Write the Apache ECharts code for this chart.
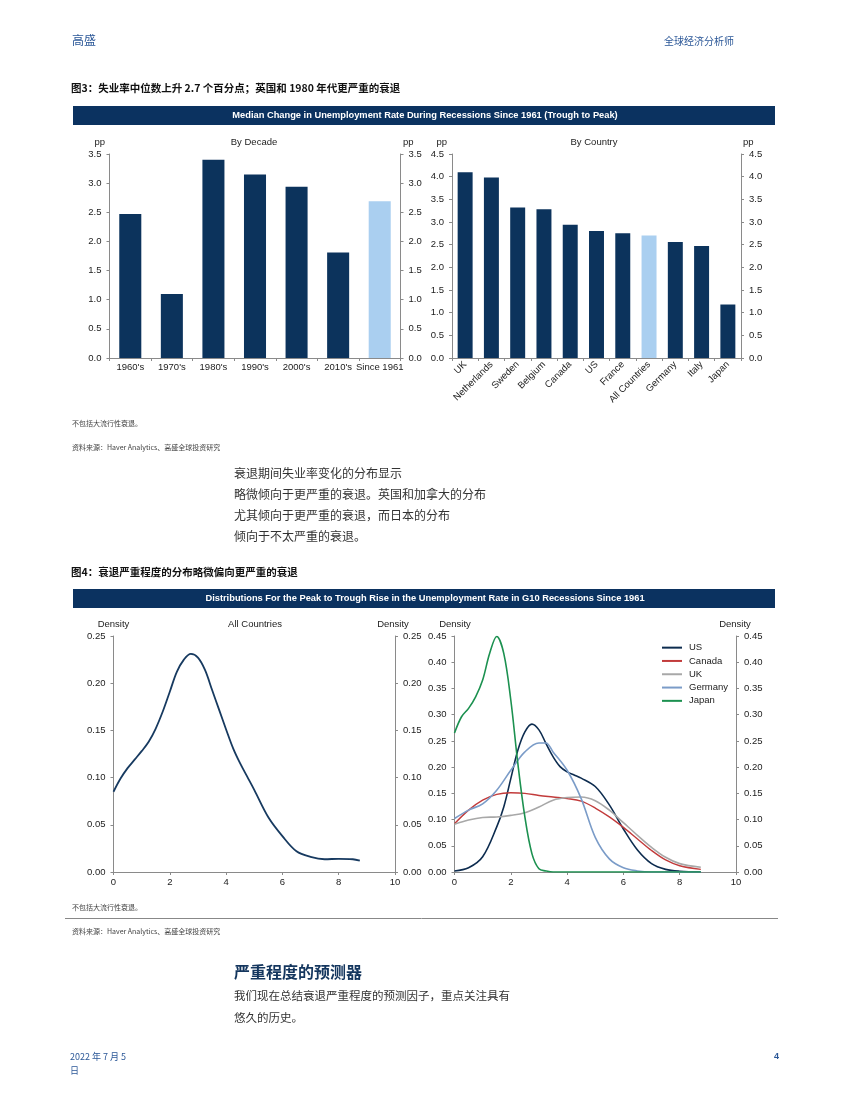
<!DOCTYPE html>
<html><head><meta charset="utf-8">
<script src="https://cdn.jsdelivr.net/npm/echarts@6/dist/echarts.min.js"></script>
<style>html,body{margin:0;padding:0;background:#fff}#c{width:850px;height:1100px}</style>
</head><body><div id="c"></div>
<script>
// ---------- data ----------
const decades = ["1960's", "1970's", "1980's", "1990's", "2000's", "2010's", "Since 1961"];
const decadeValues = [2.47, 1.10, 3.40, 3.15, 2.94, 1.81, 2.69];
const decadeHighlight = "Since 1961";

const countries = ["UK", "Netherlands", "Sweden", "Belgium", "Canada", "US", "France", "All Countries", "Germany", "Italy", "Japan"];
const countryValues = [4.10, 3.98, 3.32, 3.28, 2.94, 2.80, 2.75, 2.70, 2.56, 2.47, 1.18];
const countryHighlight = "All Countries";

const allX = [0,0.25,0.5,0.75,1,1.25,1.5,1.75,2,2.25,2.5,2.75,3,3.25,3.5,3.75,4,4.25,4.5,4.75,5,5.5,6,6.5,7,7.5,8,8.5,8.75];
const allY = [0.085,0.099,0.110,0.119,0.128,0.138,0.152,0.170,0.191,0.212,0.225,0.231,0.227,0.214,0.193,0.172,0.151,0.131,0.115,0.101,0.087,0.058,0.038,0.022,0.016,0.0135,0.014,0.0135,0.012];

const usX = [0,0.5,1,1.5,1.75,2,2.25,2.5,2.75,3,3.25,3.5,3.75,4,4.25,4.5,5,5.5,6,6.5,7,7.5,8,8.75];
const usY = [0.002,0.008,0.029,0.086,0.124,0.178,0.232,0.267,0.282,0.271,0.245,0.220,0.201,0.191,0.185,0.179,0.163,0.128,0.082,0.042,0.016,0.005,0.0015,0.0005];

const canadaX = [0,0.5,1,1.5,2,2.5,3,3.5,4,4.5,5,5.5,6,6.5,7,7.5,8,8.75];
const canadaY = [0.092,0.118,0.137,0.148,0.151,0.150,0.146,0.143,0.140,0.135,0.122,0.105,0.085,0.063,0.041,0.023,0.012,0.005];

const ukX = [0,0.5,1,1.5,2,2.5,3,3.5,4,4.5,5,5.5,6,6.5,7,7.5,8,8.75];
const ukY = [0.091,0.099,0.104,0.105,0.108,0.113,0.124,0.137,0.142,0.143,0.136,0.118,0.094,0.070,0.047,0.028,0.016,0.009];

const germanyX = [0,0.5,1,1.5,2,2.5,3,3.25,3.5,4,4.5,5,5.5,6,6.5,7,7.5,8,8.75];
const germanyY = [0.102,0.118,0.130,0.156,0.194,0.229,0.246,0.246,0.229,0.194,0.140,0.066,0.025,0.008,0.002,0,0,0,0];

const japanX = [0,0.25,0.5,0.75,1,1.25,1.5,1.75,2,2.25,2.5,2.75,3,3.25,3.5,4,5,6,7,8,8.75];
const japanY = [0.265,0.296,0.312,0.334,0.366,0.417,0.449,0.417,0.328,0.207,0.105,0.035,0.006,0.002,0,0,0,0,0,0,0];

// ---------- styles ----------
const NAVY = '#0c335c', LIGHT = '#aacff0', BANNER = '#0b3260';
const AXIS = '#8a8a8a', TXT = '#222';
const LAT = '"Liberation Sans", Arial, sans-serif';
const CJK = '"Noto Sans CJK SC", sans-serif';
const BLUE = '#2b5797';

const pair = (xs, ys) => xs.map((x, i) => [x, ys[i]]);

function yAx(grid, pos, max, interval, dec) {
  return {
    type: 'value', gridIndex: grid, position: pos, min: 0, max: max, interval: interval,
    axisLine: {show: true, lineStyle: {color: AXIS, width: 1}},
    axisTick: {show: true, length: 3, lineStyle: {color: AXIS}},
    axisLabel: {margin: 8, fontSize: 9.5, color: TXT, fontFamily: LAT, formatter: v => v.toFixed(dec)},
    splitLine: {show: false}
  };
}
function catAx(grid, data, rotate) {
  return {
    type: 'category', gridIndex: grid, data: data,
    axisLine: {show: true, lineStyle: {color: AXIS, width: 1}},
    axisTick: {show: true, length: 3, interval: 0, lineStyle: {color: AXIS}},
    axisLabel: {interval: 0, rotate: rotate, margin: rotate ? 5 : 4, fontSize: 9.5, color: TXT, fontFamily: LAT},
    splitLine: {show: false}
  };
}
function valX(grid) {
  return {
    type: 'value', gridIndex: grid, min: 0, max: 10, interval: 2,
    axisLine: {show: true, onZero: false, lineStyle: {color: AXIS, width: 1}},
    axisTick: {show: true, length: 3, lineStyle: {color: AXIS}},
    axisLabel: {margin: 5, fontSize: 9.5, color: TXT, fontFamily: LAT},
    splitLine: {show: false}
  };
}
function lineS(name, xs, ys, color, xi, yi, w) {
  return {
    name: name, type: 'line', xAxisIndex: xi, yAxisIndex: yi, data: pair(xs, ys),
    smooth: 0.35, showSymbol: false, symbol: 'none',
    lineStyle: {color: color, width: w}, itemStyle: {color: color}, z: 3
  };
}
function txt(x, y, text, font, fill, align) {
  return {type: 'text', x: x, y: y, silent: true,
    style: {text: text, font: font, fill: fill || TXT, align: align || 'left', verticalAlign: 'middle'}};
}

const graphics = [
  txt(72, 40, '高盛', '12px ' + CJK, BLUE),
  txt(664, 41, '全球经济分析师', '10px ' + CJK, BLUE),
  txt(71, 88, '图3：失业率中位数上升 2.7 个百分点；英国和 1980 年代更严重的衰退', 'bold 10.5px ' + CJK, '#111'),
  {type: 'rect', shape: {x: 73, y: 106, width: 702, height: 19}, style: {fill: BANNER}, silent: true},
  txt(425, 115.5, 'Median Change in Unemployment Rate During Recessions Since 1961 (Trough to Peak)', 'bold 9.3px ' + LAT, '#fff', 'center'),
  txt(105, 142.5, 'pp', '9.5px ' + LAT, TXT, 'right'),
  txt(403, 142.5, 'pp', '9.5px ' + LAT, TXT, 'left'),
  txt(254, 142.5, 'By Decade', '9.5px ' + LAT, TXT, 'center'),
  txt(447, 142.5, 'pp', '9.5px ' + LAT, TXT, 'right'),
  txt(743, 142.5, 'pp', '9.5px ' + LAT, TXT, 'left'),
  txt(594, 142.5, 'By Country', '9.5px ' + LAT, TXT, 'center'),
  txt(72, 423, '不包括大流行性衰退。', '7px ' + CJK, '#444'),
  txt(72, 447, '资料来源：Haver Analytics、高盛全球投资研究', '7px ' + CJK, '#444'),
  txt(234, 473, '衰退期间失业率变化的分布显示', '12px ' + CJK, '#333'),
  txt(234, 494, '略微倾向于更严重的衰退。英国和加拿大的分布', '12px ' + CJK, '#333'),
  txt(234, 515, '尤其倾向于更严重的衰退，而日本的分布', '12px ' + CJK, '#333'),
  txt(234, 536, '倾向于不太严重的衰退。', '12px ' + CJK, '#333'),
  txt(71, 572, '图4：衰退严重程度的分布略微偏向更严重的衰退', 'bold 10.5px ' + CJK, '#111'),
  {type: 'rect', shape: {x: 73, y: 589, width: 702, height: 19}, style: {fill: BANNER}, silent: true},
  txt(425, 598.5, 'Distributions For the Peak to Trough Rise in the Unemployment Rate in G10 Recessions Since 1961', 'bold 9.3px ' + LAT, '#fff', 'center'),
  txt(113.5, 624, 'Density', '9.5px ' + LAT, TXT, 'center'),
  txt(393, 624, 'Density', '9.5px ' + LAT, TXT, 'center'),
  txt(255, 624, 'All Countries', '9.5px ' + LAT, TXT, 'center'),
  txt(455, 624, 'Density', '9.5px ' + LAT, TXT, 'center'),
  txt(735, 624, 'Density', '9.5px ' + LAT, TXT, 'center'),
  txt(72, 907, '不包括大流行性衰退。', '7px ' + CJK, '#444'),
  {type: 'line', shape: {x1: 65, y1: 918.5, x2: 778, y2: 918.5}, style: {stroke: '#888', lineWidth: 1}, silent: true},
  txt(72, 931, '资料来源：Haver Analytics、高盛全球投资研究', '7px ' + CJK, '#444'),
  txt(234, 972, '严重程度的预测器', 'bold 16px ' + CJK, '#14365e'),
  txt(234, 996, '我们现在总结衰退严重程度的预测因子，重点关注具有', '11.5px ' + CJK, '#333'),
  txt(234, 1018, '悠久的历史。', '11.5px ' + CJK, '#333'),
  txt(70, 1057, '2022 年 7 月 5', '9px ' + CJK, BLUE),
  txt(70, 1071, '日', '9px ' + CJK, BLUE),
  txt(779, 1057, '4', 'bold 9px ' + LAT, BLUE, 'right')
];

const option = {
  animation: false,
  backgroundColor: '#fff',
  textStyle: {fontFamily: LAT},
  grid: [
    {left: 109.5, top: 154, width: 291, height: 204},
    {left: 452, top: 154, width: 289, height: 204},
    {left: 113.5, top: 636, width: 281.5, height: 236},
    {left: 454.5, top: 636, width: 281.5, height: 236}
  ],
  xAxis: [catAx(0, decades, 0), catAx(1, countries, 45), valX(2), valX(3)],
  yAxis: [
    yAx(0, 'left', 3.5, 0.5, 1), yAx(0, 'right', 3.5, 0.5, 1),
    yAx(1, 'left', 4.5, 0.5, 1), yAx(1, 'right', 4.5, 0.5, 1),
    yAx(2, 'left', 0.25, 0.05, 2), yAx(2, 'right', 0.25, 0.05, 2),
    yAx(3, 'left', 0.45, 0.05, 2), yAx(3, 'right', 0.45, 0.05, 2)
  ],
  legend: {
    data: ['US', 'Canada', 'UK', 'Germany', 'Japan'],
    orient: 'vertical', left: 662, top: 642, padding: 0,
    icon: 'rect', itemWidth: 20, itemHeight: 2, itemGap: 2,
    textStyle: {fontSize: 9.5, lineHeight: 11.3, color: TXT, fontFamily: LAT, padding: [0, 0, 0, 2]}
  },
  series: [
    {type: 'bar', xAxisIndex: 0, yAxisIndex: 0, barWidth: '53%',
      data: decadeValues.map((v, i) => ({value: v, itemStyle: {color: decades[i] === decadeHighlight ? LIGHT : NAVY}}))},
    {type: 'bar', xAxisIndex: 1, yAxisIndex: 2, barWidth: '57%',
      data: countryValues.map((v, i) => ({value: v, itemStyle: {color: countries[i] === countryHighlight ? LIGHT : NAVY}}))},
    lineS('All Countries', allX, allY, '#173a60', 2, 4, 1.8),
    lineS('US', usX, usY, '#0d2c4f', 3, 6, 1.6),
    lineS('Canada', canadaX, canadaY, '#c23b3b', 3, 6, 1.4),
    lineS('UK', ukX, ukY, '#a8a8a8', 3, 6, 1.6),
    lineS('Germany', germanyX, germanyY, '#7b9cc8', 3, 6, 1.6),
    lineS('Japan', japanX, japanY, '#1c9150', 3, 6, 1.6)
  ],
  graphic: graphics
};
const chart = echarts.init(document.getElementById('c'), null, {renderer: 'canvas'});
chart.setOption(option);
</script></body></html>
